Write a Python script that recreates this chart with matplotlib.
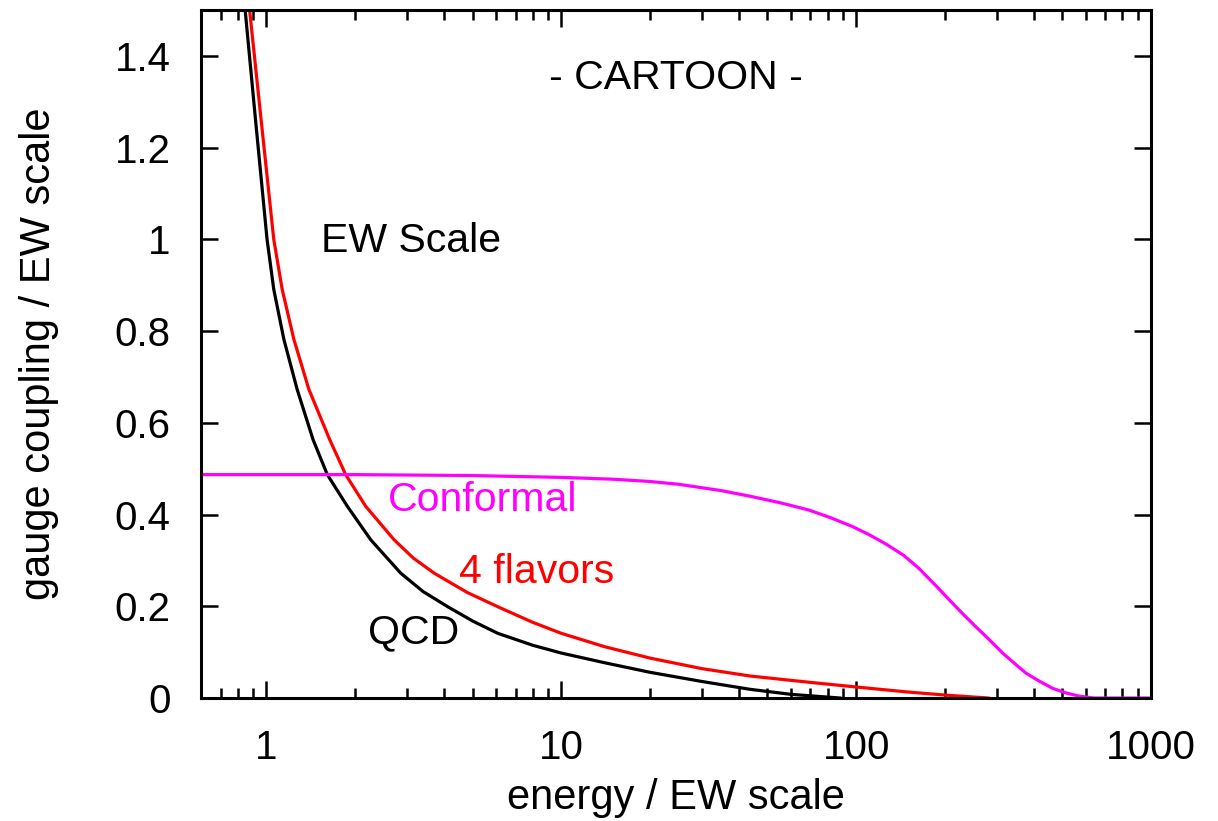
import matplotlib
matplotlib.use("Agg")
import matplotlib.pyplot as plt
from matplotlib.ticker import FixedLocator, NullFormatter

# values (energy / EW scale, gauge coupling)
qcd_x = [0.847, 0.918, 1.005, 1.059, 1.146, 1.271, 1.44, 1.609, 1.881, 2.258, 2.856, 3.4,
         4.12, 5.0, 6.09, 8.0, 10.0, 14.0, 20.0, 30.0, 43.6, 60.0, 88.0]
qcd_y = [1.50, 1.262, 1.00, 0.891, 0.782, 0.673, 0.563, 0.487, 0.418, 0.345, 0.272, 0.232,
         0.199, 0.168, 0.141, 0.115, 0.098, 0.077, 0.056, 0.036, 0.019, 0.008, 0.0]

flav_x = [0.877, 0.959, 1.059, 1.131, 1.239, 1.393, 1.64, 1.857, 2.171, 2.71, 3.15, 3.71,
          4.8, 6.09, 8.0, 10.0, 14.0, 20.0, 30.0, 43.6, 70.0, 100.0, 150.0, 204.0, 280.0]
flav_y = [1.50, 1.262, 1.00, 0.891, 0.782, 0.673, 0.563, 0.487, 0.418, 0.345, 0.305, 0.272,
          0.230, 0.199, 0.165, 0.141, 0.112, 0.087, 0.064, 0.048, 0.034, 0.024, 0.013, 0.006, 0.0]

conf_x = [0.6, 2.0, 5.0, 10.0, 15.0, 20.0, 25.0, 35.0, 43.6, 55.0, 69.0, 82.0, 97.0, 110.0,
          126.0, 145.0, 163.0, 187.0, 212.0, 232.0, 254.0, 283.0, 314.0, 345.0, 377.0, 420.0,
          464.0, 515.0, 572.0, 640.0, 1000.0]
conf_y = [0.487, 0.487, 0.485, 0.481, 0.477, 0.472, 0.466, 0.452, 0.440, 0.426, 0.410, 0.393,
          0.374, 0.357, 0.336, 0.311, 0.283, 0.244, 0.207, 0.181, 0.156, 0.127, 0.098, 0.075,
          0.054, 0.036, 0.021, 0.011, 0.004, 0.0, 0.0]

plt.rcParams["font.family"] = ["Liberation Sans", "DejaVu Sans"]

fig = plt.figure(figsize=(12.18, 8.21), dpi=100)
ax = fig.add_axes([201 / 1218, 1 - 698 / 821, 950 / 1218, 688 / 821])

ax.plot(qcd_x, qcd_y, color="black", lw=2.3, solid_joinstyle="round")
ax.plot(flav_x, flav_y, color="#ff0000", lw=2.3, solid_joinstyle="round")
ax.plot(conf_x, conf_y, color="#ff00ff", lw=2.3, solid_joinstyle="round")

ax.set_xscale("log")
ax.set_xlim(0.6, 1000)
ax.set_ylim(0, 1.5)
ax.xaxis.set_major_locator(FixedLocator([1, 10, 100, 1000]))
ax.set_xticklabels(["1", "10", "100", "1000"])
minors = [m * d for d in (0.1, 1, 10, 100) for m in range(2, 10)]
ax.xaxis.set_minor_locator(FixedLocator([v for v in minors if 0.6 <= v <= 1000]))
ax.xaxis.set_minor_formatter(NullFormatter())
ax.set_yticks([0, 0.2, 0.4, 0.6, 0.8, 1.0, 1.2, 1.4])
ax.set_yticklabels(["0", "0.2", "0.4", "0.6", "0.8", "1", "1.2", "1.4"])

ax.tick_params(which="both", direction="in", top=True, right=True, width=1.8,
               labelsize=29)
ax.tick_params(axis="y", pad=22)
ax.tick_params(axis="x", pad=22)
ax.tick_params(which="major", length=12)
ax.tick_params(which="minor", length=7)
for s in ax.spines.values():
    s.set_linewidth(2.2)

ax.set_xlabel("energy / EW scale", fontsize=30, labelpad=8)
ax.set_ylabel("gauge coupling / EW scale", fontsize=30, labelpad=40)

ax.text(0.5, 0.901, "- CARTOON -", transform=ax.transAxes, ha="center", va="center", fontsize=29.5)
ax.text(1.53, 0.996, "EW Scale", ha="left", va="center", fontsize=29.5, color="black")
ax.text(2.58, 0.432, "Conformal", ha="left", va="center", fontsize=29.5, color="#ff00ff")
ax.text(4.5, 0.275, "4 flavors", ha="left", va="center", fontsize=29.5, color="#ff0000")
ax.text(2.21, 0.144, "QCD", ha="left", va="center", fontsize=29.5, color="black")

fig.savefig("out.png", dpi=100)
plt.close(fig)
